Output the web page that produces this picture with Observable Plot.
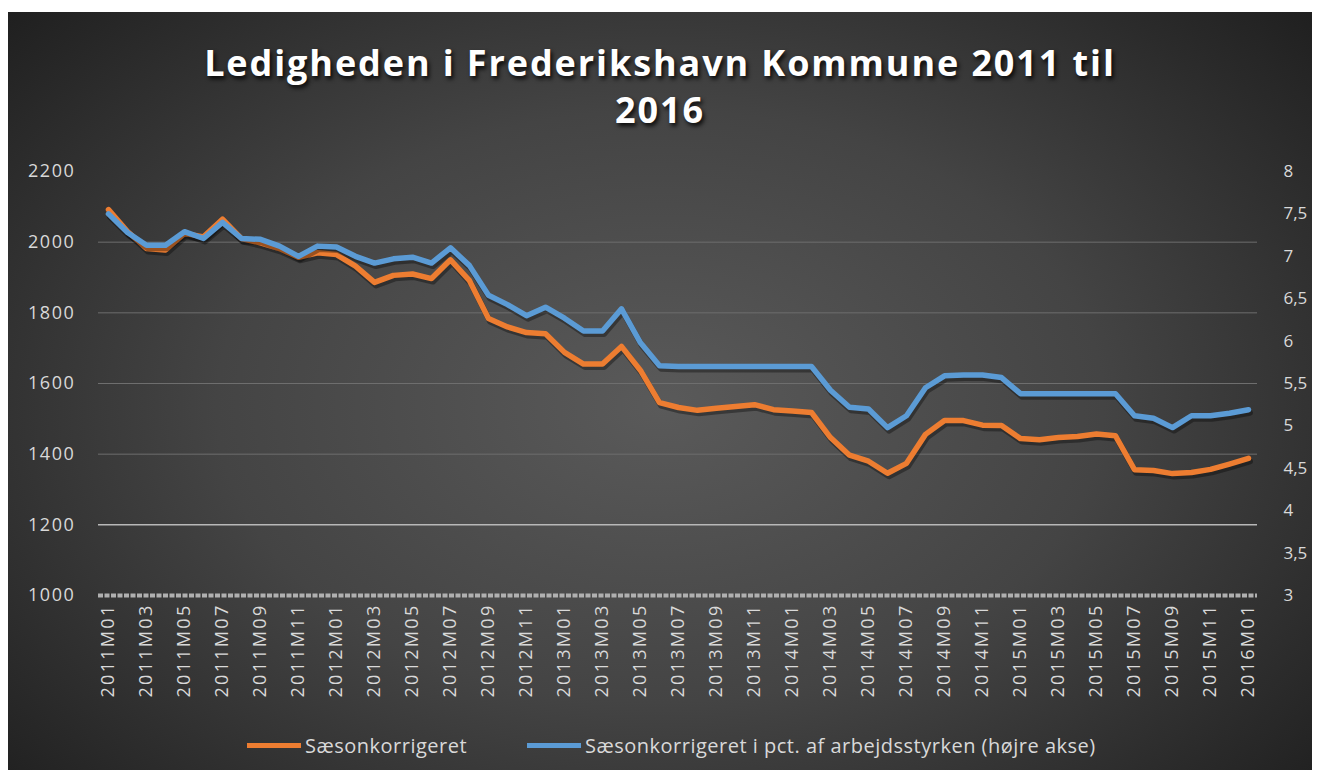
<!DOCTYPE html>
<html><head><meta charset="utf-8">
<script src="https://cdn.jsdelivr.net/npm/d3@7"></script>
<script src="https://cdn.jsdelivr.net/npm/@observablehq/plot@0.6"></script>
<style>
body{margin:0;background:#fff;width:1319px;height:776px;overflow:hidden;font-family:"Open Sans",sans-serif;}
#panel{position:absolute;left:8px;top:12px;width:1304px;height:758px;overflow:hidden;
 background:radial-gradient(ellipse 68% 78% at 50% 52%, #5a5a5a 0%, #444 50%, #2a2a2a 85%, #1f1f1f 100%);}
#title{position:absolute;left:0;top:27px;width:100%;text-align:center;color:#fff;font-weight:700;font-size:36px;letter-spacing:1.9px;line-height:47px;text-shadow:2px 3px 4px rgba(0,0,0,0.85);}
#chart{position:absolute;left:0;top:130px;}
#chart svg [aria-label="x-axis tick label"] text{letter-spacing:2.3px;}
.leg{position:absolute;top:721px;height:24px;display:flex;align-items:center;color:#d9d9d9;font-size:20px;letter-spacing:0.5px;white-space:nowrap;}
.sw{display:inline-block;width:54px;height:5px;margin-right:4px;}
</style></head>
<body>
<div id="panel">
  <div id="title">Ledigheden i Frederikshavn Kommune 2011 til<br>2016</div>
  <div id="chart"></div>
  <div class="leg" style="left:239px"><span class="sw" style="background:#ED7D31"></span>Sæsonkorrigeret</div>
  <div class="leg" style="left:519px"><span class="sw" style="background:#5B9BD5"></span>Sæsonkorrigeret i pct. af arbejdsstyrken (højre akse)</div>
</div>
<script>
const months = [
 "2011M01","2011M02","2011M03","2011M04","2011M05","2011M06","2011M07","2011M08","2011M09","2011M10","2011M11","2011M12",
 "2012M01","2012M02","2012M03","2012M04","2012M05","2012M06","2012M07","2012M08","2012M09","2012M10","2012M11","2012M12",
 "2013M01","2013M02","2013M03","2013M04","2013M05","2013M06","2013M07","2013M08","2013M09","2013M10","2013M11","2013M12",
 "2014M01","2014M02","2014M03","2014M04","2014M05","2014M06","2014M07","2014M08","2014M09","2014M10","2014M11","2014M12",
 "2015M01","2015M02","2015M03","2015M04","2015M05","2015M06","2015M07","2015M08","2015M09","2015M10","2015M11","2015M12",
 "2016M01"];
const xTickLabels = ["2011M01","2011M03","2011M05","2011M07","2011M09","2011M11","2012M01","2012M03","2012M05","2012M07","2012M09","2012M11",
 "2013M01","2013M03","2013M05","2013M07","2013M09","2013M11","2014M01","2014M03","2014M05","2014M07","2014M09","2014M11",
 "2015M01","2015M03","2015M05","2015M07","2015M09","2015M11","2016M01"];
// Sæsonkorrigeret (left axis)
const saeson = [2092,2030,1982,1978,2025,2015,2065,2010,1998,1982,1957,1970,
 1965,1932,1886,1906,1910,1897,1950,1891,1784,1760,1744,1741,
 1688,1655,1655,1705,1637,1546,1532,1524,1530,1535,1540,1526,
 1522,1518,1447,1397,1380,1346,1374,1456,1495,1495,1482,1481,
 1444,1441,1447,1450,1457,1452,1356,1354,1345,1348,1357,1372,
 1388];
// Sæsonkorrigeret i pct. af arbejdsstyrken (right axis)
const pct = [7.50,7.28,7.13,7.13,7.29,7.21,7.40,7.21,7.20,7.12,7.00,7.12,
 7.11,7.00,6.92,6.97,6.99,6.92,7.10,6.89,6.54,6.43,6.30,6.40,
 6.27,6.12,6.12,6.38,5.98,5.71,5.70,5.70,5.70,5.70,5.70,5.70,
 5.70,5.70,5.42,5.22,5.20,4.98,5.12,5.45,5.59,5.60,5.60,5.57,
 5.38,5.38,5.38,5.38,5.38,5.38,5.12,5.09,4.98,5.12,5.12,5.15,
 5.19];
const leftTicks = [1000,1200,1400,1600,1800,2000,2200];
const rightTicks = [3,3.5,4,4.5,5,5.5,6,6.5,7,7.5,8];
const leftDomain = [1000,2200], rightDomain = [3,8];

const toLeft = v => leftDomain[0] + (v - rightDomain[0]) * (leftDomain[1]-leftDomain[0])/(rightDomain[1]-rightDomain[0]);
const toRight = v => rightDomain[0] + (v - leftDomain[0]) * (rightDomain[1]-rightDomain[0])/(leftDomain[1]-leftDomain[0]);
const fmtComma = v => String(Math.round(v*10)/10).replace(".", ",");

const orangeC = "#ED7D31", blueC = "#5B9BD5";
const xo = (d,i) => months[i];

const chart = Plot.plot({
  width: 1304, height: 580,
  marginLeft: 90, marginRight: 55, marginTop: 29, marginBottom: 127,
  style: {background: "transparent", color: "#d9d9d9", fontFamily: "'Open Sans', sans-serif"},
  x: {type: "point", domain: months, padding: 0.5},
  y: {domain: leftDomain},
  marks: [
    Plot.ruleY([1400,1600,1800,2000], {stroke: "#6e6e6e", strokeWidth: 1}),
    Plot.ruleY([1200], {stroke: "#b8b8b8", strokeWidth: 1.5}),
    Plot.ruleY([2200], {x1: months[0], x2: months[3], stroke: "#9a9a9a", strokeWidth: 1.5, strokeDasharray: "3,2"}),
    Plot.ruleY([2200], {x1: months[57], x2: months[60], stroke: "#9a9a9a", strokeWidth: 1.5, strokeDasharray: "3,2"}),
    Plot.ruleY([1000], {stroke: "#b0b0b0", strokeWidth: 4, strokeDasharray: "5,1.5"}),
    Plot.line(saeson, {x: xo, y: d => d, stroke: "#000", strokeOpacity: 0.35, strokeWidth: 6, dx: 1.5, dy: 3}),
    Plot.line(saeson, {x: xo, y: d => d, stroke: orangeC, strokeWidth: 5.5, strokeLinejoin: "round"}),
    Plot.line(pct, {x: xo, y: d => toLeft(d), stroke: "#000", strokeOpacity: 0.35, strokeWidth: 6, dx: 1.5, dy: 3}),
    Plot.line(pct, {x: xo, y: d => toLeft(d), stroke: blueC, strokeWidth: 5.5, strokeLinejoin: "round"}),
    Plot.axisY(leftTicks, {anchor: "left", tickSize: 0, tickPadding: 23, fontSize: 18, label: null, fill: "#d9d9d9",
      tickFormat: d => String(d)}),
    Plot.axisY(rightTicks.map(toLeft), {anchor: "right", tickSize: 0, tickPadding: 26, fontSize: 17, label: null, fill: "#d9d9d9",
      tickFormat: d => fmtComma(toRight(d))}),
    Plot.axisX(xTickLabels, {anchor: "bottom", tickSize: 0, tickPadding: 8, tickRotate: -90, fontSize: 18, label: null, fill: "#d9d9d9"})
  ]
});
const yLabelGroups = chart.querySelectorAll('[aria-label="y-axis tick label"]');
if (yLabelGroups.length) yLabelGroups[0].style.letterSpacing = "1.6px";
document.getElementById("chart").appendChild(chart);
</script>
</body></html>
